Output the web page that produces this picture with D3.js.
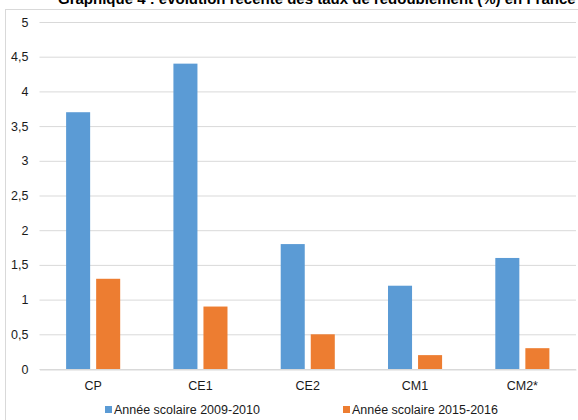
<!DOCTYPE html>
<html>
<head>
<meta charset="utf-8">
<script src="https://cdn.jsdelivr.net/npm/d3@7"></script>
<style>
  html, body { margin: 0; padding: 0; background: #fff; }
  svg { display: block; font-family: "Liberation Sans", Arial, sans-serif; }
</style>
</head>
<body>
<svg id="chart" width="578" height="420"></svg>
<script>
// Redoublement par niveau (%)
const categories = ["CP", "CE1", "CE2", "CM1", "CM2*"];
const seriesNames = ["Année scolaire 2009-2010", "Année scolaire 2015-2016"];
const values2009 = [3.7, 4.4, 1.8, 1.2, 1.6];
const values2015 = [1.3, 0.9, 0.5, 0.2, 0.3];
const yTicks = [0, 0.5, 1, 1.5, 2, 2.5, 3, 3.5, 4, 4.5, 5];
const colors = ["#5B9BD5", "#ED7D31"];
const title = "Graphique 4 : évolution récente des taux de redoublement (%) en France";

const svg = d3.select("#chart");
const plot = { left: 39.5, right: 576, top: 22, bottom: 369 };

const x = d3.scaleBand().domain(categories).range([plot.left, plot.right]).paddingInner(0).paddingOuter(0);
const y = d3.scaleLinear().domain([0, 5]).range([plot.bottom, plot.top]);

const series = [values2009, values2015];
const barW = x.bandwidth() * 0.224;
const gap = x.bandwidth() * 0.056;

// cadre du graphique
svg.append("rect")
  .attr("x", 5.5).attr("y", 9.5)
  .attr("width", 600).attr("height", 430)
  .attr("fill", "none").attr("stroke", "#d9d9d9").attr("stroke-width", 1);

// titre
svg.append("text")
  .attr("x", 58).attr("y", 3.5)
  .attr("font-size", 15).attr("font-weight", "bold").attr("fill", "#000")
  .text(title);

// quadrillage + axe Y
const yAxis = d3.axisLeft(y)
  .tickValues(yTicks)
  .tickSize(-(plot.right - plot.left))
  .tickPadding(11)
  .tickFormat(d => String(d).replace(".", ","));

const gy = svg.append("g")
  .attr("transform", `translate(${plot.left},0)`)
  .call(yAxis);
gy.select(".domain").remove();
gy.selectAll(".tick line").attr("stroke", "#d9d9d9").attr("stroke-width", 1);
gy.selectAll(".tick text").attr("font-size", 12.5).attr("fill", "#1a1a1a")
  .attr("font-family", "'Liberation Sans', Arial, sans-serif");

// barres
series.forEach((vals, si) => {
  svg.append("g").selectAll("rect")
    .data(categories.map((c, i) => ({ c, v: vals[i] })))
    .join("rect")
    .attr("x", d => x(d.c) + x.bandwidth() / 2 + (si === 0 ? -(barW + gap / 2) : gap / 2))
    .attr("y", d => y(d.v))
    .attr("width", barW)
    .attr("height", d => y(0) - y(d.v))
    .attr("fill", colors[si]);
});

// axe X
const xAxis = d3.axisBottom(x).tickSize(0).tickPadding(12);
const gx = svg.append("g")
  .attr("transform", `translate(0,${plot.bottom + 0.5})`)
  .call(xAxis);
gx.select(".domain").attr("stroke", "#d9d9d9");
gx.selectAll(".tick text").attr("font-size", 12.5).attr("fill", "#1a1a1a")
  .attr("font-family", "'Liberation Sans', Arial, sans-serif");

// légende
const legendX = [105, 343];
seriesNames.forEach((name, i) => {
  const g = svg.append("g").attr("transform", `translate(${legendX[i]},0)`);
  g.append("rect").attr("x", 0).attr("y", 406).attr("width", 7).attr("height", 7).attr("fill", colors[i]);
  g.append("text").attr("x", 9).attr("y", 414)
    .attr("font-size", 12.5).attr("fill", "#1a1a1a")
    .text(name);
});
</script>
</body>
</html>
